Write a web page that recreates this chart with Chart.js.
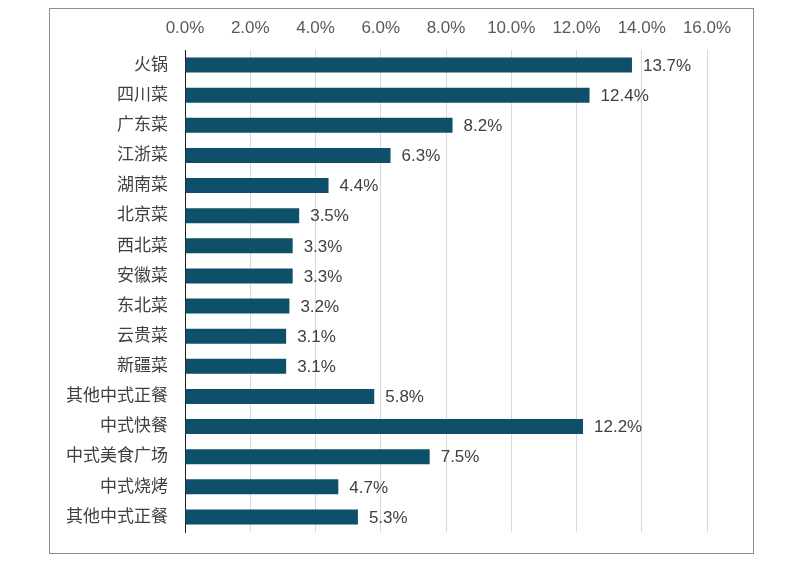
<!DOCTYPE html>
<html>
<head>
<meta charset="utf-8">
<script src="https://cdn.jsdelivr.net/npm/chart.js@4"></script>
<style>
  html, body { margin: 0; padding: 0; background: #fff; }
  #wrap { position: relative; width: 800px; height: 561px; }
</style>
</head>
<body>
<div id="wrap"><canvas id="chart" width="800" height="561"></canvas></div>
<script>
// categories and shares (%)
const categories = ['火锅', '四川菜', '广东菜', '江浙菜', '湖南菜', '北京菜', '西北菜', '安徽菜',
    '东北菜', '云贵菜', '新疆菜', '其他中式正餐', '中式快餐', '中式美食广场', '中式烧烤', '其他中式正餐'];
const shares = [13.7, 12.4, 8.2, 6.3, 4.4, 3.5, 3.3, 3.3, 3.2, 3.1, 3.1, 5.8, 12.2, 7.5, 4.7, 5.3];
const xTicks = [0, 2, 4, 6, 8, 10, 12, 14, 16];

const FONT = "'Liberation Sans', 'Noto Sans CJK SC', Arial, sans-serif";

// outer frame around the whole chart
const framePlugin = {
    id: 'frame',
    afterDraw(chart) {
        const ctx = chart.ctx;
        ctx.save();
        ctx.strokeStyle = '#8c8c8c';
        ctx.lineWidth = 1;
        ctx.strokeRect(49.5, 8.5, 704, 545);
        ctx.restore();
    }
};

// value labels at the end of each bar
const valueLabels = {
    id: 'valueLabels',
    afterDatasetsDraw(chart) {
        const ctx = chart.ctx;
        const meta = chart.getDatasetMeta(0);
        ctx.save();
        ctx.font = '17px ' + FONT;
        ctx.fillStyle = '#404040';
        ctx.textAlign = 'left';
        ctx.textBaseline = 'middle';
        meta.data.forEach((bar, i) => {
            ctx.fillText(shares[i].toFixed(1) + '%', bar.x + 11, bar.y + 1);
        });
        ctx.restore();
    }
};

const ctx = document.getElementById('chart').getContext('2d');
new Chart(ctx, {
    type: 'bar',
    data: {
        labels: categories,
        datasets: [{
            data: shares,
            backgroundColor: '#0e4f6a',
            barPercentage: 0.5,
            categoryPercentage: 1.0
        }]
    },
    options: {
        indexAxis: 'y',
        responsive: false,
        animation: false,
        layout: { padding: { left: 0, right: 93, top: 0, bottom: 29 } },
        plugins: {
            legend: { display: false },
            tooltip: { enabled: false }
        },
        scales: {
            x: {
                position: 'top',
                min: 0,
                max: 16,
                afterBuildTicks: (scale) => { scale.ticks = xTicks.map(v => ({ value: v })); },
                afterFit: (scale) => { scale.height = 50; },
                ticks: {
                    padding: 11,
                    color: '#595959',
                    font: { size: 17, family: FONT },
                    callback: (v) => Number(v).toFixed(1) + '%'
                },
                grid: {
                    drawTicks: false,
                    color: (c) => c.tick && c.tick.value === 0 ? 'rgba(0,0,0,0)' : '#d9d9d9'
                },
                border: { display: false }
            },
            y: {
                afterFit: (scale) => { scale.width = 185; },
                ticks: {
                    padding: 17,
                    color: '#404040',
                    font: { size: 17, family: FONT }
                },
                grid: { display: false, drawTicks: false },
                border: { display: true, color: '#1a1a1a', width: 1 }
            }
        }
    },
    plugins: [framePlugin, valueLabels]
});
</script>
</body>
</html>
